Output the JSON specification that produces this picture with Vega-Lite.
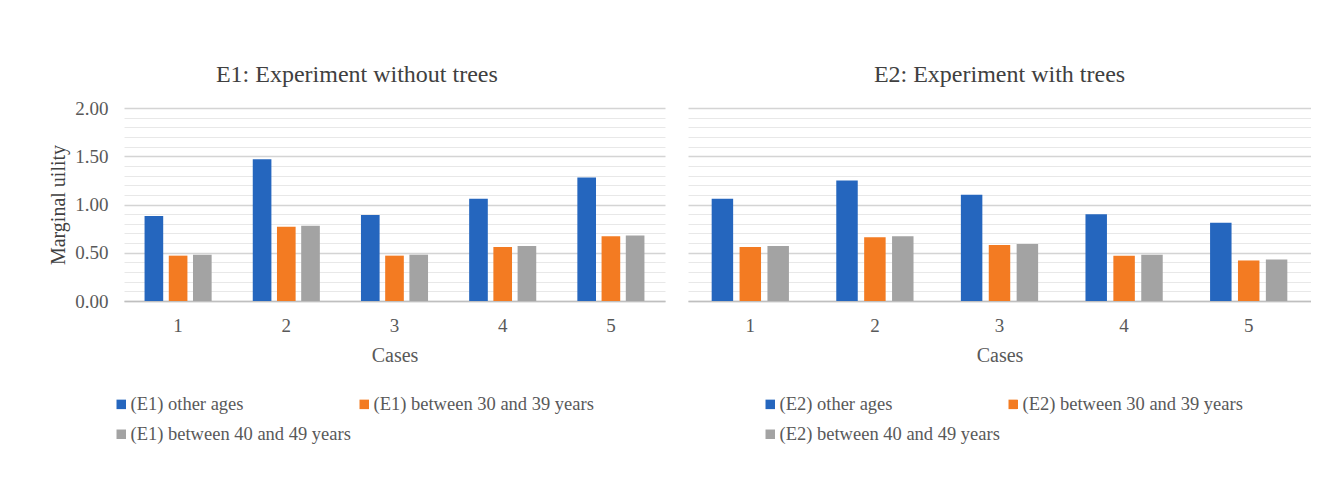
{
  "$schema": "https://vega.github.io/schema/vega-lite/v6.json",
  "padding": {"left": 48, "top": 63, "right": 0, "bottom": 0},
  "background": "white",
  "config": {
    "font": "Liberation Serif",
    "view": {"stroke": null},
    "concat": {"spacing": 23},
    "title": {"fontSize": 24, "fontWeight": "normal", "color": "#404040"},
    "axisX": {
      "labelAngle": 0, "ticks": false, "labelPadding": 15, "labelFontSize": 19, "labelColor": "#595959",
      "titleFontSize": 20, "titleFontWeight": "normal", "titleColor": "#595959", "titlePadding": 10,
      "domainColor": "#bfbfbf", "domainWidth": 1.5, "grid": false
    },
    "axisY": {
      "ticks": false, "domain": false, "labelOverlap": false, "labelFontSize": 19, "labelColor": "#595959",
      "labelPadding": 16, "titleFontSize": 20, "titleFontWeight": "normal", "titleColor": "#404040", "titlePadding": 6
    },
    "legend": {
      "orient": "none", "columns": 2, "direction": "horizontal", "symbolType": "square", "symbolSize": 90,
      "symbolStrokeWidth": 0, "labelFontSize": 18.5, "labelColor": "#595959", "labelLimit": 400,
      "labelOffset": 0, "columnPadding": 4, "rowPadding": 11, "title": null
    }
  },
  "datasets": {
    "e1": [
      {"case": 1, "group": "(E1) other ages", "value": 0.88},
      {"case": 1, "group": "(E1) between 30 and 39 years", "value": 0.47},
      {"case": 1, "group": "(E1) between 40 and 49 years", "value": 0.48},
      {"case": 2, "group": "(E1) other ages", "value": 1.47},
      {"case": 2, "group": "(E1) between 30 and 39 years", "value": 0.77},
      {"case": 2, "group": "(E1) between 40 and 49 years", "value": 0.78},
      {"case": 3, "group": "(E1) other ages", "value": 0.89},
      {"case": 3, "group": "(E1) between 30 and 39 years", "value": 0.47},
      {"case": 3, "group": "(E1) between 40 and 49 years", "value": 0.48},
      {"case": 4, "group": "(E1) other ages", "value": 1.06},
      {"case": 4, "group": "(E1) between 30 and 39 years", "value": 0.56},
      {"case": 4, "group": "(E1) between 40 and 49 years", "value": 0.57},
      {"case": 5, "group": "(E1) other ages", "value": 1.28},
      {"case": 5, "group": "(E1) between 30 and 39 years", "value": 0.67},
      {"case": 5, "group": "(E1) between 40 and 49 years", "value": 0.68}
    ],
    "e2": [
      {"case": 1, "group": "(E2) other ages", "value": 1.06},
      {"case": 1, "group": "(E2) between 30 and 39 years", "value": 0.56},
      {"case": 1, "group": "(E2) between 40 and 49 years", "value": 0.57},
      {"case": 2, "group": "(E2) other ages", "value": 1.25},
      {"case": 2, "group": "(E2) between 30 and 39 years", "value": 0.66},
      {"case": 2, "group": "(E2) between 40 and 49 years", "value": 0.67},
      {"case": 3, "group": "(E2) other ages", "value": 1.10},
      {"case": 3, "group": "(E2) between 30 and 39 years", "value": 0.58},
      {"case": 3, "group": "(E2) between 40 and 49 years", "value": 0.59},
      {"case": 4, "group": "(E2) other ages", "value": 0.90},
      {"case": 4, "group": "(E2) between 30 and 39 years", "value": 0.47},
      {"case": 4, "group": "(E2) between 40 and 49 years", "value": 0.48},
      {"case": 5, "group": "(E2) other ages", "value": 0.81},
      {"case": 5, "group": "(E2) between 30 and 39 years", "value": 0.42},
      {"case": 5, "group": "(E2) between 40 and 49 years", "value": 0.43}
    ]
  },
  "resolve": {"scale": {"color": "independent", "y": "independent", "x": "independent", "xOffset": "independent"}, "legend": {"color": "independent"}},
  "hconcat": [
    {
      "width": 541, "height": 193,
      "title": {"text": "E1: Experiment without trees", "frame": "bounds", "offset": 12},
      "data": {"name": "e1"},
      "mark": {"type": "bar"},
      "encoding": {
        "x": {"field": "case", "type": "ordinal", "title": "Cases", "scale": {"paddingInner": 0.38, "paddingOuter": 0.19}},
        "xOffset": {"field": "group", "type": "nominal", "sort": ["(E1) other ages", "(E1) between 30 and 39 years", "(E1) between 40 and 49 years"], "scale": {"paddingInner": 0.23, "paddingOuter": 0}},
        "y": {
          "field": "value", "type": "quantitative", "title": "Marginal uility",
          "scale": {"domain": [0, 2], "nice": false},
          "axis": {
            "values": [0, 0.1, 0.2, 0.3, 0.4, 0.5, 0.6, 0.7, 0.8, 0.9, 1, 1.1, 1.2, 1.3, 1.4, 1.5, 1.6, 1.7, 1.8, 1.9, 2],
            "labelExpr": "abs(datum.value*2 - round(datum.value*2)) < 0.001 ? format(datum.value, '.2f') : ''",
            "grid": true,
            "gridColor": {"condition": {"test": "abs(datum.value*2 - round(datum.value*2)) < 0.001", "value": "#d4d4d4"}, "value": "#e8e8e8"},
            "gridWidth": {"condition": {"test": "abs(datum.value*2 - round(datum.value*2)) < 0.001", "value": 1.5}, "value": 1}
          }
        },
        "color": {
          "field": "group", "type": "nominal",
          "scale": {"domain": ["(E1) other ages", "(E1) between 30 and 39 years", "(E1) between 40 and 49 years"], "range": ["#2566BE", "#F37B22", "#A3A3A3"]},
          "legend": {"legendX": -12, "legendY": 287}
        }
      }
    },
    {
      "width": 623, "height": 193,
      "title": {"text": "E2: Experiment with trees", "frame": "bounds", "offset": 21},
      "data": {"name": "e2"},
      "mark": {"type": "bar"},
      "encoding": {
        "x": {"field": "case", "type": "ordinal", "title": "Cases", "scale": {"paddingInner": 0.38, "paddingOuter": 0.19}},
        "xOffset": {"field": "group", "type": "nominal", "sort": ["(E2) other ages", "(E2) between 30 and 39 years", "(E2) between 40 and 49 years"], "scale": {"paddingInner": 0.23, "paddingOuter": 0}},
        "y": {
          "field": "value", "type": "quantitative", "title": null,
          "scale": {"domain": [0, 2], "nice": false},
          "axis": {
            "values": [0, 0.1, 0.2, 0.3, 0.4, 0.5, 0.6, 0.7, 0.8, 0.9, 1, 1.1, 1.2, 1.3, 1.4, 1.5, 1.6, 1.7, 1.8, 1.9, 2],
            "labels": false,
            "grid": true,
            "gridColor": {"condition": {"test": "abs(datum.value*2 - round(datum.value*2)) < 0.001", "value": "#d4d4d4"}, "value": "#e8e8e8"},
            "gridWidth": {"condition": {"test": "abs(datum.value*2 - round(datum.value*2)) < 0.001", "value": 1.5}, "value": 1}
          }
        },
        "color": {
          "field": "group", "type": "nominal",
          "scale": {"domain": ["(E2) other ages", "(E2) between 30 and 39 years", "(E2) between 40 and 49 years"], "range": ["#2566BE", "#F37B22", "#A3A3A3"]},
          "legend": {"legendX": 73, "legendY": 287}
        }
      }
    }
  ]
}
